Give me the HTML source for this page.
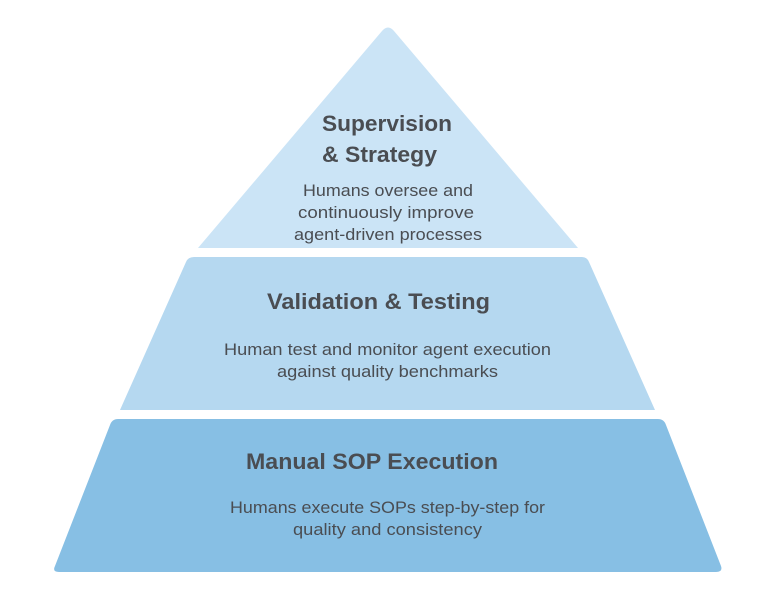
<!DOCTYPE html>
<html><head><style>
body{margin:0;background:#fff;width:768px;height:605px;overflow:hidden}
svg text{font-family:"Liberation Sans",sans-serif;fill:#4a4d52}
</style></head><body>
<svg width="768" height="605" viewBox="0 0 768 605">
<path d="M382,31 Q388,24 394,31 L578,248 L198,248 Z" fill="#cbe4f6"/>
<path d="M194,257 L582,257 Q587,257 589,262 L655,410 L120,410 L186,262 Q188,257 194,257 Z" fill="#b5d8f0"/>
<path d="M118,419 L658,419 Q664,419 666,425 L721,566 Q723,572 716,572 L59,572 Q52,572 55,566 L110,425 Q112,419 118,419 Z" fill="#87bfe4"/>
<g lengthAdjust="spacingAndGlyphs">
<text x="322" y="131" font-size="22" font-weight="bold" textLength="130" lengthAdjust="spacingAndGlyphs">Supervision</text>
<text x="322" y="162" font-size="22" font-weight="bold" textLength="115" lengthAdjust="spacingAndGlyphs">&amp; Strategy</text>
<text x="303" y="196" font-size="16.5" textLength="170" lengthAdjust="spacingAndGlyphs">Humans oversee and</text>
<text x="298" y="218" font-size="16.5" textLength="176" lengthAdjust="spacingAndGlyphs">continuously improve</text>
<text x="294" y="240" font-size="16.5" textLength="188" lengthAdjust="spacingAndGlyphs">agent-driven processes</text>
<text x="267" y="309" font-size="22" font-weight="bold" textLength="223" lengthAdjust="spacingAndGlyphs">Validation &amp; Testing</text>
<text x="224" y="355" font-size="16.5" textLength="327" lengthAdjust="spacingAndGlyphs">Human test and monitor agent execution</text>
<text x="277" y="377" font-size="16.5" textLength="221" lengthAdjust="spacingAndGlyphs">against quality benchmarks</text>
<text x="246" y="469" font-size="22" font-weight="bold" textLength="252" lengthAdjust="spacingAndGlyphs">Manual SOP Execution</text>
<text x="230" y="513" font-size="16.5" textLength="315" lengthAdjust="spacingAndGlyphs">Humans execute SOPs step-by-step for</text>
<text x="293" y="535" font-size="16.5" textLength="189" lengthAdjust="spacingAndGlyphs">quality and consistency</text>
</g>
</svg>
</body></html>
